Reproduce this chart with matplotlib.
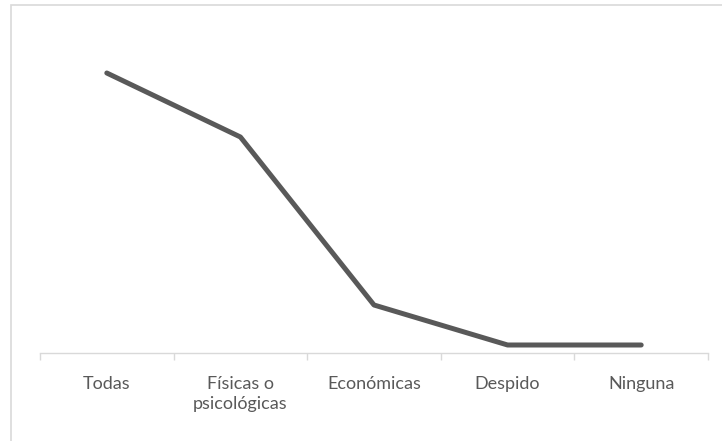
import matplotlib.pyplot as plt
from matplotlib.patches import Rectangle

categorias = ['Todas', 'Físicas o\npsicológicas', 'Económicas', 'Despido', 'Ninguna']
valores = [35, 27, 6, 1, 1]

gris = '#595959'
borde = '#d9d9d9'

fig = plt.figure(figsize=(7.22, 4.41), dpi=100)
ax = fig.add_axes([40 / 722, 88 / 441, 668 / 722, 320 / 441])

x = list(range(len(categorias)))
ax.plot(x, valores, color=gris, linewidth=3.6, solid_capstyle='round', solid_joinstyle='round')

ax.set_xlim(-0.5, len(categorias) - 0.5)
ax.set_ylim(0, 40)

# etiquetas centradas en cada categoria, marcas en los limites
ax.set_xticks(x)
ax.set_xticklabels(categorias, fontsize=13, color=gris, family='Lato', linespacing=1.35)
ax.tick_params(axis='x', which='major', length=0, pad=16.5)
ax.set_xticks([i - 0.5 for i in range(len(categorias) + 1)], minor=True)
ax.tick_params(axis='x', which='minor', length=5, width=1, color=borde)
ax.set_yticks([])

for lado in ['top', 'right', 'left']:
    ax.spines[lado].set_visible(False)
ax.spines['bottom'].set_color(borde)
ax.spines['bottom'].set_linewidth(1)

# marco del grafico
fig.patches.append(Rectangle((11 / 722, -0.1), 1.2, 1.1 - 5 / 441, transform=fig.transFigure,
                             fill=False, edgecolor=borde, linewidth=1.2))

fig.savefig('out.png', dpi=100)
